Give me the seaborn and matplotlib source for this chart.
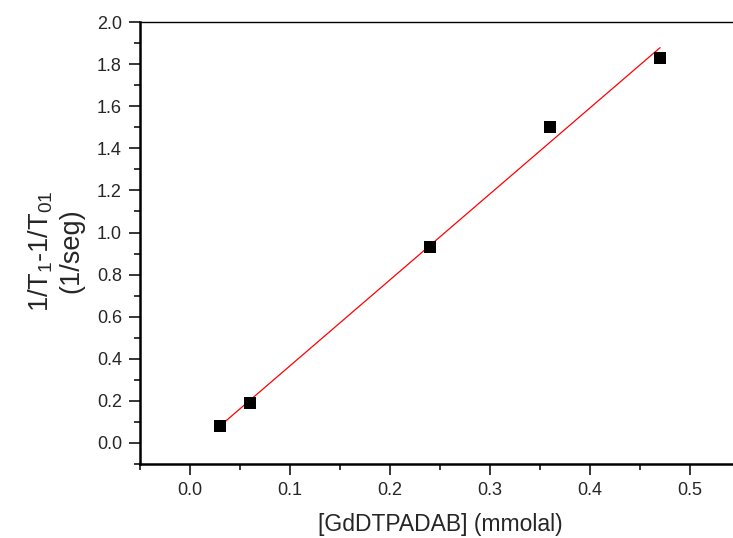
import numpy as np
import pandas as pd
import matplotlib
matplotlib.use("Agg")
import matplotlib.pyplot as plt
import seaborn as sns
from matplotlib.ticker import MultipleLocator

# data
conc = [0.03, 0.06, 0.24, 0.36, 0.47]      # [GdDTPADAB] (mmolal)
relax = [0.08, 0.19, 0.93, 1.50, 1.83]     # 1/T1 - 1/T01 (1/seg)
df = pd.DataFrame({"conc": conc, "relax": relax})

sns.set_style("white")
plt.rcParams["font.family"] = ["Liberation Sans", "DejaVu Sans"]
plt.rcParams["mathtext.default"] = "regular"

fig = plt.figure(figsize=(7.33, 5.38), dpi=100)
ax = fig.add_axes([0.191, 0.1375, 0.8186, 0.8215])

# linear fit line (red) + black square points
sns.regplot(data=df, x="conc", y="relax", ax=ax, ci=None, scatter=False,
            line_kws={"color": "red", "lw": 0.9})
sns.scatterplot(data=df, x="conc", y="relax", ax=ax, marker="s", color="black",
                s=75, edgecolor="none", zorder=3)

ax.set_xlim(-0.05, 0.55)
ax.set_ylim(-0.1, 2.0)
ax.xaxis.set_minor_locator(MultipleLocator(0.05))
ax.yaxis.set_minor_locator(MultipleLocator(0.1))
xt = np.arange(0, 0.51, 0.1)
yt = np.arange(0, 2.01, 0.2)
ax.set_xticks(xt)
ax.set_xticklabels([f"{v:.1f}" for v in xt])
ax.set_yticks(yt)
ax.set_yticklabels([f"{v:.1f}" for v in yt])

ax.tick_params(which="major", direction="out", length=8, width=1.3,
               labelsize=13, pad=5, bottom=True, left=True)
ax.tick_params(which="minor", direction="out", length=4.5, width=1.3,
               bottom=True, left=True)

for side in ["left", "bottom"]:
    ax.spines[side].set_linewidth(1.8)
ax.spines["top"].set_linewidth(1.0)
ax.spines["right"].set_visible(False)
for sp in ax.spines.values():
    sp.set_color("black")

ax.set_xlabel("[GdDTPADAB] (mmolal)", fontsize=16.5, labelpad=10)
ax.set_ylabel("1/T$_1$-1/T$_{01}$\n(1/seg)", fontsize=19.5, linespacing=1.2)
ax.yaxis.set_label_coords(-0.092, 0.482)

fig.savefig("out.png", dpi=100)
